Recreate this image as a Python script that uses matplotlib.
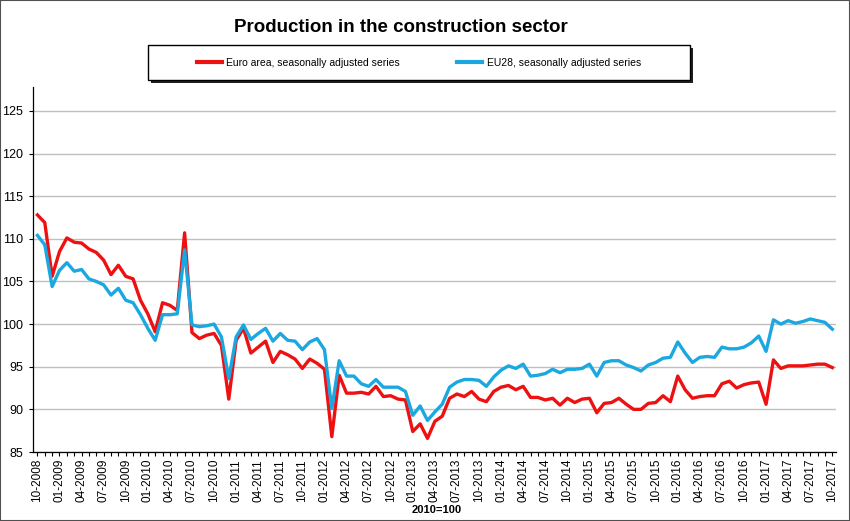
import numpy as np
import pandas as pd
import matplotlib
matplotlib.use('Agg')
import matplotlib.pyplot as plt
from matplotlib.patches import Rectangle
from matplotlib.lines import Line2D

plt.rcParams['font.family'] = ['Liberation Sans Narrow', 'Liberation Sans', 'DejaVu Sans']

# Monthly index, 10-2008 .. 10-2017 (2010=100)
months = pd.date_range('2008-10-01', '2017-10-01', freq='MS')

euro_area = [
    112.8, 111.9, 105.6, 108.5, 110.1, 109.6, 109.5, 108.8, 108.4, 107.5,
    105.8, 106.9, 105.6, 105.3, 102.8, 101.2, 99.1, 102.5, 102.2, 101.6,
    110.7, 99.0, 98.3, 98.7, 98.9, 97.5, 91.2, 98.1, 99.5, 96.6,
    97.3, 98.0, 95.5, 96.8, 96.4, 95.9, 94.8, 95.9, 95.4, 94.7,
    86.8, 94.0, 91.9, 91.9, 92.0, 91.8, 92.7, 91.5, 91.6, 91.2,
    91.1, 87.4, 88.3, 86.6, 88.6, 89.2, 91.3, 91.8, 91.5, 92.1,
    91.2, 90.9, 92.1, 92.6, 92.8, 92.3, 92.7, 91.4, 91.4, 91.1,
    91.3, 90.5, 91.3, 90.8, 91.2, 91.3, 89.6, 90.7, 90.8, 91.3,
    90.6, 90.0, 90.0, 90.7, 90.8, 91.6, 90.9, 93.9, 92.3, 91.3,
    91.5, 91.6, 91.6, 93.0, 93.3, 92.5, 92.9, 93.1, 93.2, 90.6,
    95.8, 94.8, 95.1, 95.1, 95.1, 95.2, 95.3, 95.3, 94.9,
]

eu28 = [
    110.4, 109.3, 104.4, 106.3, 107.2, 106.2, 106.4, 105.3, 105.0, 104.6,
    103.4, 104.2, 102.8, 102.5, 101.1, 99.5, 98.1, 101.1, 101.1, 101.2,
    108.7, 99.9, 99.7, 99.8, 100.0, 98.5, 93.6, 98.5, 99.9, 98.2,
    98.9, 99.5, 98.0, 98.9, 98.1, 98.0, 97.0, 97.9, 98.3, 97.0,
    90.1, 95.7, 93.9, 93.9, 93.0, 92.7, 93.5, 92.6, 92.6, 92.6,
    92.1, 89.3, 90.4, 88.7, 89.7, 90.6, 92.6, 93.2, 93.5, 93.5,
    93.4, 92.7, 93.8, 94.6, 95.1, 94.8, 95.3, 93.9, 94.0, 94.2,
    94.7, 94.3, 94.7, 94.7, 94.8, 95.3, 93.9, 95.5, 95.7, 95.7,
    95.2, 94.9, 94.5, 95.2, 95.5, 96.0, 96.1, 97.9, 96.6, 95.5,
    96.1, 96.2, 96.1, 97.3, 97.1, 97.1, 97.3, 97.8, 98.6, 96.8,
    100.5, 100.0, 100.4, 100.1, 100.3, 100.6, 100.4, 100.2, 99.4,
]

labels = [m.strftime('%m-%Y') for m in months]
x = np.arange(len(months))

fig = plt.figure(figsize=(8.5, 5.21), dpi=100)
ax = fig.add_axes([33 / 850, 1 - 452 / 521, 803 / 850, 365 / 521])

ax.plot(x, euro_area, color='#ee1111', lw=2.4, solid_joinstyle='round',
        label='Euro area, seasonally adjusted series')
ax.plot(x, eu28, color='#1ba8e0', lw=2.4, solid_joinstyle='round',
        label='EU28, seasonally adjusted series')

ax.set_xlim(-0.6, 108.5)
ax.set_ylim(85, 127.8)
ax.set_yticks(np.arange(85, 126, 5))
ax.set_xticks(x[::3])
ax.set_xticklabels(labels[::3], rotation=90, fontsize=8.5)
ax.set_xticks(x, minor=True)
ax.tick_params(axis='x', which='both', direction='out', length=3, width=0.8, pad=2)
ax.tick_params(axis='y', direction='out', length=3, width=0.8, labelsize=9, pad=4)

ax.grid(axis='y', color='#c0c0c0', lw=1.0)
ax.set_axisbelow(True)
for s in ['top', 'right']:
    ax.spines[s].set_visible(False)
for s in ['left', 'bottom']:
    ax.spines[s].set_color('black')
    ax.spines[s].set_linewidth(0.9)

fig.text(401 / 850, 1 - 28 / 521, 'Production in the construction sector',
         ha='center', va='center', fontsize=13.5, fontweight='bold')
fig.text(437 / 850, 1 - 510 / 521, '2010=100', ha='center', va='center',
         fontsize=8, fontweight='bold')

# legend box with shadow
bx, by, bw, bh = 148 / 850, 1 - 80 / 521, 542 / 850, 35 / 521
fig.patches.append(Rectangle((bx + 3 / 850, by - 3 / 521), bw, bh, transform=fig.transFigure,
                             facecolor='#202020', edgecolor='none', zorder=1))
fig.patches.append(Rectangle((bx, by), bw, bh, transform=fig.transFigure,
                             facecolor='white', edgecolor='black', lw=1.0, zorder=2))
handles = [Line2D([], [], color='#ee1111', lw=3), Line2D([], [], color='#1ba8e0', lw=3)]
leg = fig.legend(handles, ['Euro area, seasonally adjusted series', 'EU28, seasonally adjusted series'],
                 loc='center', bbox_to_anchor=(bx + bw / 2, by + bh / 2), ncol=2, frameon=False,
                 fontsize=7.5, handlelength=2.4, handletextpad=0.4, columnspacing=5.5)
leg.set_zorder(3)

# outer frame
fig.patches.append(Rectangle((0, 0), 1, 1, transform=fig.transFigure, fill=False,
                             edgecolor='#505050', lw=1.5))

fig.savefig('out.png', dpi=100)
